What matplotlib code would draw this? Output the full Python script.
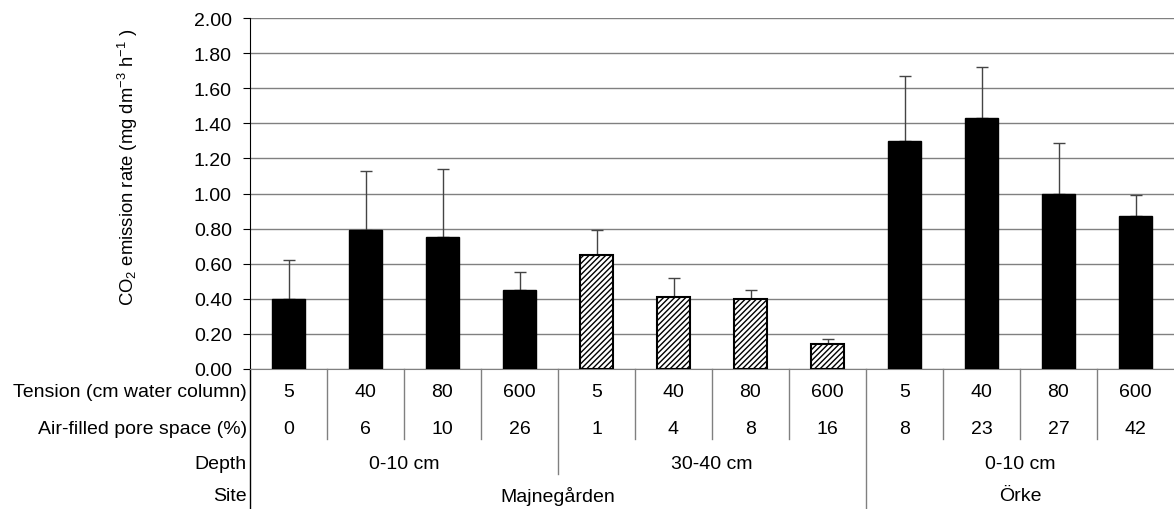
import numpy as np
import matplotlib
matplotlib.use("Agg")
import matplotlib.pyplot as plt

plt.rcParams['font.family'] = ['Liberation Sans', 'DejaVu Sans']
plt.rcParams['mathtext.default'] = 'regular'
plt.rcParams['hatch.linewidth'] = 1.0

tension = ["5", "40", "80", "600", "5", "40", "80", "600", "5", "40", "80", "600"]
air_filled = ["0", "6", "10", "26", "1", "4", "8", "16", "8", "23", "27", "42"]
depths = ["0-10 cm", "30-40 cm", "0-10 cm"]
sites = ["Majnegården", "Örke"]
rate = [0.40, 0.79, 0.75, 0.45, 0.65, 0.41, 0.40, 0.14, 1.30, 1.43, 1.00, 0.87]
rate_err = [0.22, 0.34, 0.39, 0.10, 0.14, 0.11, 0.05, 0.03, 0.37, 0.29, 0.29, 0.12]
hatched = [False] * 4 + [True] * 4 + [False] * 4


def main():
    fig = plt.figure(figsize=(11.74, 5.10), dpi=100)
    ax = fig.add_axes([250 / 1174, 140 / 510, 924 / 1174, 351 / 510])

    x = np.arange(len(rate))
    for i in x:
        if hatched[i]:
            ax.bar(i, rate[i], width=0.43, color="white", edgecolor="black",
                   hatch="//////", linewidth=1.5, zorder=3)
        else:
            ax.bar(i, rate[i], width=0.43, color="black", edgecolor="black",
                   linewidth=1, zorder=3)
    ax.errorbar(x, rate, yerr=[np.zeros(len(rate)), rate_err], fmt="none",
                ecolor="#444444", elinewidth=1, capsize=4, capthick=1, zorder=2)

    ax.set_xlim(-0.5, 11.5)
    ax.set_ylim(0, 2.0)
    ax.set_yticks(np.arange(0, 2.01, 0.2))
    ax.set_yticklabels(["%.2f" % v for v in np.arange(0, 2.01, 0.2)], fontsize=14)
    ax.tick_params(axis="y", length=5, color="black", pad=8)
    ax.set_xticks([])
    ax.yaxis.grid(True, color="#808080", linewidth=1)
    ax.set_axisbelow(True)
    for s in ["top", "right"]:
        ax.spines[s].set_visible(False)
    ax.spines["bottom"].set_color("#808080")
    ax.spines["left"].set_color("black")

    fig.text(128 / 1174, 1 - 167 / 510,
             "CO$_2$ emission rate (mg dm$^{-3}$ h$^{-1}$ )",
             rotation=90, ha="center", va="center", fontsize=13.3)

    tr = ax.get_xaxis_transform()
    h = 351.0
    y_ten = -(393 - 370) / h
    y_air = -(430 - 370) / h
    y_dep = -(465 - 370) / h
    y_site = -(497 - 370) / h
    fs = 14

    # row labels
    for yy, lab in [(y_ten, "Tension (cm water column)"),
                    (y_air, "Air-filled pore space (%)"),
                    (y_dep, "Depth"), (y_site, "Site")]:
        ax.text(-3 / 924, yy, lab, transform=ax.transAxes, ha="right",
                va="center", fontsize=fs)

    for i in x:
        ax.text(i, y_ten, tension[i], transform=tr, ha="center", va="center", fontsize=fs)
        ax.text(i, y_air, air_filled[i], transform=tr, ha="center", va="center", fontsize=fs)

    for k, lab in enumerate(depths):
        ax.text(4 * k + 1.5, y_dep, lab, transform=tr, ha="center", va="center", fontsize=fs)
    ax.text(3.5, y_site, sites[0], transform=tr, ha="center", va="center", fontsize=fs)
    ax.text(9.5, y_site, sites[1], transform=tr, ha="center", va="center", fontsize=fs)

    # table lines
    for i in range(1, 12):
        xs = i - 0.5
        if i == 8:
            bottom = -140 / h
        elif i == 4:
            bottom = -(475 - 370) / h
        else:
            bottom = -(440 - 370) / h
        ax.plot([xs, xs], [0, bottom], transform=tr, color="#808080",
                linewidth=1, clip_on=False)
    ax.plot([-0.5, -0.5], [0, -140 / h], transform=tr, color="black",
            linewidth=1, clip_on=False)

    fig.savefig("out.png", dpi=100)


if __name__ == "__main__":
    main()
